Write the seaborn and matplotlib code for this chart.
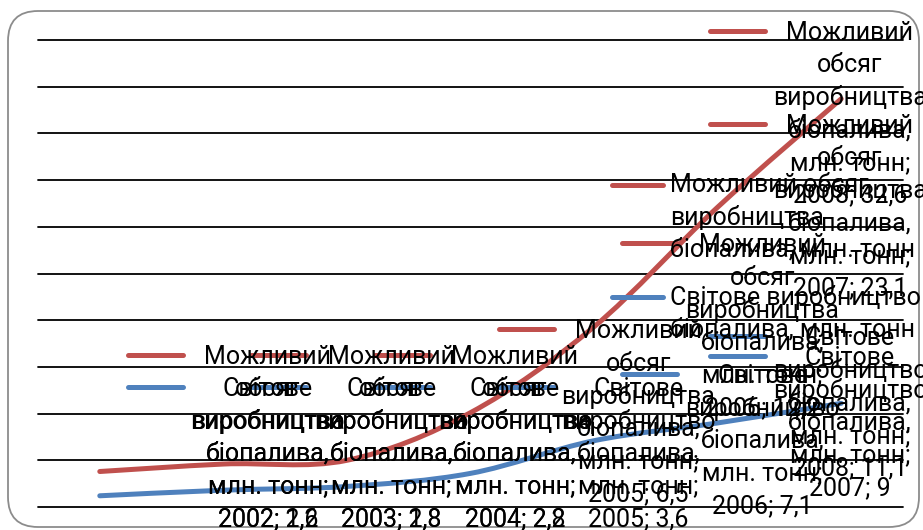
import numpy as np
import pandas as pd
import seaborn as sns
import matplotlib
matplotlib.use("Agg")
import matplotlib.pyplot as plt
from matplotlib.path import Path
from matplotlib.patches import PathPatch, FancyBboxPatch
from matplotlib.lines import Line2D

# data (stacked line chart: red series sits on top of blue)
years = ["2002", "2003", "2004", "2005", "2006", "2007", "2008"]
world_prod = [1.2, 1.8, 2.2, 3.6, 7.1, 9.0, 11.1]
possible_prod = [2.6, 2.8, 2.8, 6.5, 12.2, 23.1, 32.6]

red_name = "Можливий обсяг виробництва біопалива, млн. тонн"
blue_name = "Світове виробництво біопалива, млн. тонн"
red_label_lines = ["Можливий", "обсяг", "виробництва", "біопалива,", "млн. тонн;"]
blue_label_lines = ["Світове", "виробництво", "біопалива,", "млн. тонн;"]
legend_red_lines = ["Можливий обсяг", "виробництва", "біопалива, млн. тонн"]
legend_blue_lines = ["Світове виробництво", "біопалива, млн. тонн"]

RED = "#C0504D"
BLUE = "#4F81BD"
W, H = 923, 530
FS = 18
LINE_H = 32.5

sns.set_theme(style="white")
plt.rcParams["font.family"] = ["Roboto", "DejaVu Sans"]

stacked_red = [a + b for a, b in zip(world_prod, possible_prod)]
df = pd.DataFrame({
    "year": years * 2,
    "value": world_prod + stacked_red,
    "series": [blue_name] * len(years) + [red_name] * len(years),
})

fig = plt.figure(figsize=(W / 100, H / 100), dpi=100)
ax = fig.add_axes([38 / W, (H - 507) / H, 865 / W, 467 / H])

sns.lineplot(data=df, x="year", y="value", hue="series", sort=False,
             palette={red_name: RED, blue_name: BLUE}, legend=False,
             linewidth=3.6, ax=ax)

ax.set_xlim(-0.5, len(years) - 0.5)
ax.set_ylim(0, 50)
ax.set_yticks(np.arange(0, 51, 5))
ax.grid(axis="y", color="black", linewidth=1.3)
ax.grid(axis="x", visible=False)
for gl in ax.get_ygridlines():
    gl.set_clip_on(False)
ax.tick_params(length=0, labelleft=False, labelbottom=False)
for s in ax.spines.values():
    s.set_visible(False)
ax.set_xlabel("")
ax.set_ylabel("")


def smooth_path(pts):
    # Excel-like smoothed line (Catmull-Rom as cubic Bezier)
    p = np.vstack([pts[0], pts, pts[-1]])
    verts = [pts[0]]
    codes = [Path.MOVETO]
    for i in range(1, len(p) - 2):
        c1 = p[i] + (p[i + 1] - p[i - 1]) / 6
        c2 = p[i + 1] - (p[i + 2] - p[i]) / 6
        verts += [c1, c2, p[i + 1]]
        codes += [Path.CURVE4] * 3
    return Path(verts, codes)


series_px = {}
for line in list(ax.lines):
    pts = np.asarray(line.get_xydata(), dtype=float)
    color = line.get_color()
    ax.add_patch(PathPatch(smooth_path(pts), fill=False, edgecolor=color,
                           linewidth=line.get_linewidth(), capstyle="round",
                           joinstyle="round", zorder=2))
    line.set_visible(False)
    series_px[matplotlib.colors.to_hex(color).upper()] = pts

fig.canvas.draw()


def to_img(pts):
    d = ax.transData.transform(pts)
    return d[:, 0], H - d[:, 1]


def add_key(x0, y, color, length=55):
    fig.add_artist(Line2D([x0 / W, (x0 + length) / W], [1 - y / H, 1 - y / H],
                          transform=fig.transFigure, color=color, linewidth=3.6,
                          solid_capstyle="round"))


def fmt(v):
    return f"{v:g}".replace(".", ",")


def draw_label(px, py, lines, color):
    n = len(lines)
    key_left = min(px + 28, 710)
    cx = key_left + 140
    first = py - (n - 1) / 2 * LINE_H
    first = min(first, 519 - (n - 1) * LINE_H)
    first = max(first, 33)
    add_key(key_left, first - 2, color)
    for i, t in enumerate(lines):
        fig.text(cx / W, 1 - (first + i * LINE_H) / H, t, ha="center",
                 va="center", fontsize=FS, color="black")


red_x, red_y = to_img(series_px[RED.upper()])
blue_x, blue_y = to_img(series_px[BLUE.upper()])

for i, yr in enumerate(years):
    draw_label(red_x[i], red_y[i],
               red_label_lines + [f"{yr}; {fmt(possible_prod[i])}"], RED)
    draw_label(blue_x[i], blue_y[i],
               blue_label_lines + [f"{yr}; {fmt(world_prod[i])}"], BLUE)

# legend
for lines, color, y0 in [(legend_red_lines, RED, 185), (legend_blue_lines, BLUE, 297)]:
    add_key(612, y0, color, length=51)
    for i, t in enumerate(lines):
        fig.text(670 / W, 1 - (y0 + i * LINE_H) / H, t, ha="left",
                 va="center", fontsize=FS, color="black")

# rounded chart frame
frame = FancyBboxPatch((8 / 100, (H - 527) / 100), (919 - 8) / 100, (527 - 11) / 100,
                       boxstyle="round,pad=0,rounding_size=0.3",
                       transform=fig.dpi_scale_trans, fill=False,
                       edgecolor="#8c8c8c", linewidth=1.3)
fig.add_artist(frame)

fig.savefig("out.png", dpi=100)
